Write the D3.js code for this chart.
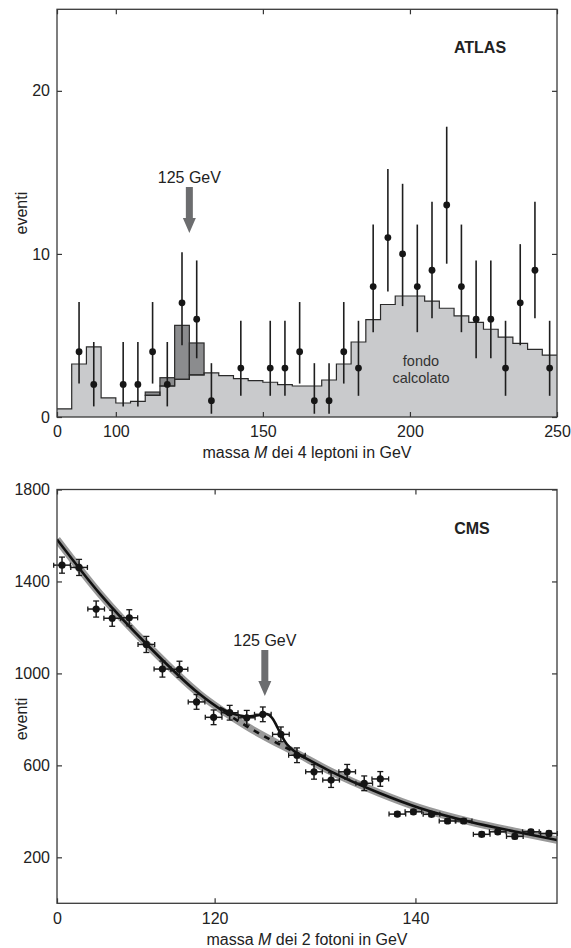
<!DOCTYPE html>
<html>
<head>
<meta charset="utf-8">
<script src="https://cdn.jsdelivr.net/npm/d3@7"></script>
<style>
  body { margin: 0; background: #fff; }
  text { font-family: "Liberation Sans", Arial, Helvetica, sans-serif; fill: #222; }
</style>
</head>
<body>
<div id="chart"></div>
<script>

// ---- ATLAS (4 leptoni) ----
var atlasBinStart = [80, 85, 90, 95, 100, 105, 110, 115, 120, 125, 130, 135, 140, 145, 150, 155, 160,
                     165, 170, 175, 180, 185, 190, 195, 200, 205, 210, 215, 220, 225, 230, 235, 240, 245]
var atlasBinWidth = 5
// fondo calcolato per bin
var atlasBackground = [0.5, 3.25, 4.3, 1.17, 0.86, 0.96, 1.33, 1.9, 2.31, 2.58, 2.7, 2.54, 2.35, 2.23, 2.13, 1.98, 1.9,
                       1.9, 2.27, 3.25, 4.6, 5.97, 6.9, 7.42, 7.42, 7.1, 6.67, 6.2, 5.8, 5.38, 4.9, 4.52, 4.15, 3.8]
// segnale (fondo + Higgs) sopra il fondo
var atlasSignalBin = [110, 115, 120, 125]
var atlasSignalTop = [1.53, 2.41, 5.62, 4.54]

var atlasMass = [87.5, 92.5, 102.5, 107.5, 112.5, 117.5, 122.5, 127.5, 132.5, 142.5,
                 152.5, 157.5, 162.5, 167.5, 172.5, 177.5, 182.5, 187.5, 192.5, 197.5,
                 202.5, 207.5, 212.5, 217.5, 222.5, 227.5, 232.5, 237.5, 242.5, 247.5]
var atlasEvents = [4, 2, 2, 2, 4, 2, 7, 6, 1, 3,
                   3, 3, 4, 1, 1, 4, 3, 8, 11, 10,
                   8, 9, 13, 8, 6, 6, 3, 7, 9, 3]
var atlasErrLow = [2.05, 0.65, 0.65, 0.65, 2.05, 0.65, 4.4, 3.6, 0.2, 1.3,
                   1.3, 1.3, 2.05, 0.2, 0.2, 2.05, 1.3, 5.2, 7.7, 6.8,
                   5.2, 6.05, 9.4, 5.2, 3.6, 3.6, 1.3, 4.4, 6.05, 1.3]
var atlasErrHigh = [7.05, 4.6, 4.6, 4.6, 7.05, 4.6, 10.1, 9.6, 3.3, 5.9,
                    5.9, 5.9, 7.05, 3.3, 3.3, 7.05, 5.9, 11.8, 15.2, 14.3,
                    11.8, 13.2, 17.8, 11.8, 9.6, 9.6, 5.9, 10.6, 13.2, 5.9]

var atlasTicksX = [80, 100, 150, 200, 250]
var atlasTickLabelsX = ['0', '100', '150', '200', '250']
var atlasTicksY = [0, 10, 20]

// ---- CMS (2 fotoni) ----
var cmsMass = [104.8, 106.5, 108.2, 109.8, 111.5, 113.2, 114.8, 116.5, 118.2, 119.9,
               121.5, 123.2, 124.8, 126.6, 128.2, 129.9, 131.6, 133.2, 134.9, 136.5,
               138.2, 139.8, 141.6, 143.2, 144.8, 146.6, 148.2, 149.9, 151.5, 153.3]
var cmsEvents = [1471, 1461, 1280, 1240, 1242, 1126, 1019, 1018, 876, 809,
                 829, 807, 822, 735, 644, 572, 536, 572, 522, 541,
                 388, 398, 387, 358, 358, 300, 311, 291, 311, 304]
var cmsErr = [35, 35, 35, 35, 35, 35, 35, 35, 32, 32,
              32, 32, 32, 32, 32, 32, 32, 32, 32, 32,
              10, 10, 10, 10, 10, 10, 10, 10, 10, 10]
var cmsMassHalfWidth = 0.83

// fit del fondo
var cmsFitMass = [104.3, 108.6, 113.5, 118.5, 123.2, 128.5, 131.5, 136.4, 140.4, 145.4, 150.4, 154.1]
var cmsFitEvents = [1583, 1345, 1115, 910, 770, 645, 575, 480, 415, 355, 308, 275]
// fit fondo + segnale vicino a 125 GeV
var cmsSigMass = [120.5, 121.5, 122.5, 123.5, 124.5, 125.2, 125.7, 126.2, 126.7, 127.2, 127.7, 128.2, 129.0]
var cmsSigEvents = [851, 830, 817, 813, 819, 823, 808, 770, 727, 692, 670, 653, 633]
var cmsDashRange = [120.8, 128.0]

var cmsTicksX = [104.3, 120, 140]
var cmsTickLabelsX = ['0', '120', '140']
var cmsTicksY = [200, 600, 1000, 1400, 1800]

var higgsMass = 125

var W = 571, H = 948
var svg = d3.select('#chart').append('svg').attr('width', W).attr('height', H)

var left = 57, right = 557

// ---------------- grafico ATLAS ----------------
var xTop = d3.scaleLinear().domain([80, 250]).range([left, right])
var yTop = d3.scaleLinear().domain([0, 25]).range([417, 9.3])

var gTop = svg.append('g')

var bgData = atlasBinStart.map(function(b, i){ return { x: b, y: atlasBackground[i] } })
bgData.push({ x: atlasBinStart[atlasBinStart.length - 1] + atlasBinWidth, y: atlasBackground[atlasBackground.length - 1] })

gTop.append('path')
  .datum(bgData)
  .attr('fill', '#c9cacc')
  .attr('d', d3.area().curve(d3.curveStepAfter)
    .x(function(d){ return xTop(d.x) })
    .y0(yTop(0))
    .y1(function(d){ return yTop(d.y) }))

// segnale in grigio scuro
atlasSignalBin.forEach(function(b, i){
  var k = atlasBinStart.indexOf(b)
  gTop.append('rect')
    .attr('x', xTop(b))
    .attr('width', xTop(b + atlasBinWidth) - xTop(b))
    .attr('y', yTop(atlasSignalTop[i]))
    .attr('height', yTop(atlasBackground[k]) - yTop(atlasSignalTop[i]))
    .attr('fill', '#8b8c8e')
    .attr('stroke', '#2a2a2a')
    .attr('stroke-width', 1.2)
})

gTop.append('path')
  .datum(bgData)
  .attr('fill', 'none')
  .attr('stroke', '#2a2a2a')
  .attr('stroke-width', 1.2)
  .attr('d', d3.line().curve(d3.curveStepAfter)
    .x(function(d){ return xTop(d.x) })
    .y(function(d){ return yTop(d.y) }))

// punti con barre d'errore
gTop.selectAll('.err')
  .data(atlasMass)
  .enter().append('line')
  .attr('x1', function(d){ return xTop(d) })
  .attr('x2', function(d){ return xTop(d) })
  .attr('y1', function(d, i){ return yTop(atlasErrLow[i]) })
  .attr('y2', function(d, i){ return yTop(atlasErrHigh[i]) })
  .attr('stroke', '#1e1e1e')
  .attr('stroke-width', 1.6)

gTop.selectAll('.pt')
  .data(atlasMass)
  .enter().append('circle')
  .attr('cx', function(d){ return xTop(d) })
  .attr('cy', function(d, i){ return yTop(atlasEvents[i]) })
  .attr('r', 3.4)
  .attr('fill', '#161616')

drawFrame(gTop, xTop, yTop, atlasTicksX, atlasTickLabelsX, atlasTicksY, [80, 250], [0, 25])

gTop.append('text').attr('x', 480).attr('y', 53).attr('text-anchor', 'middle')
  .style('font-weight', 'bold').style('font-size', '16px').text('ATLAS')

gTop.append('text').attr('x', 421).attr('y', 366).attr('text-anchor', 'middle')
  .style('font-size', '14.5px').style('fill', '#333').text('fondo')
gTop.append('text').attr('x', 421).attr('y', 383).attr('text-anchor', 'middle')
  .style('font-size', '14.5px').style('fill', '#333').text('calcolato')

drawArrow(gTop, xTop(higgsMass), yTop(14.1))

axisTitles(gTop, 458, (yTop(0) + yTop(25)) / 2, '4 leptoni')

// ---------------- grafico CMS ----------------
var xBot = d3.scaleLinear().domain([104.3, 154.1]).range([left, right])
var yBot = d3.scaleLinear().domain([0, 1800]).range([903.3, 489.5])

var gBot = svg.append('g')

var defs = svg.append('defs')
defs.append('clipPath').attr('id', 'solidClip').selectAll('rect')
  .data([[104.3, cmsDashRange[0]], [cmsDashRange[1], 154.1]])
  .enter().append('rect')
  .attr('x', function(d){ return xBot(d[0]) })
  .attr('width', function(d){ return xBot(d[1]) - xBot(d[0]) })
  .attr('y', yBot(1800)).attr('height', yBot(0) - yBot(1800))
defs.append('clipPath').attr('id', 'dashClip').append('rect')
  .attr('x', xBot(cmsDashRange[0]))
  .attr('width', xBot(cmsDashRange[1]) - xBot(cmsDashRange[0]))
  .attr('y', yBot(1800)).attr('height', yBot(0) - yBot(1800))
defs.append('clipPath').attr('id', 'plotClip').append('rect')
  .attr('x', left).attr('width', right - left)
  .attr('y', yBot(1800)).attr('height', yBot(0) - yBot(1800))

var fitLine = d3.line().curve(d3.curveMonotoneX)
  .x(function(d, i){ return xBot(cmsFitMass[i]) })
  .y(function(d){ return yBot(d) })

var gCurves = gBot.append('g').attr('clip-path', 'url(#plotClip)')

// banda grigia attorno al fit
gCurves.append('path').datum(cmsFitEvents)
  .attr('fill', 'none').attr('stroke', '#999').attr('stroke-width', 7.5)
  .attr('d', fitLine)

gCurves.append('path').datum(cmsFitEvents)
  .attr('fill', 'none').attr('stroke', '#111').attr('stroke-width', 2.6)
  .attr('clip-path', 'url(#solidClip)')
  .attr('d', fitLine)

gCurves.append('path').datum(cmsFitEvents)
  .attr('fill', 'none').attr('stroke', '#111').attr('stroke-width', 2.6)
  .attr('stroke-dasharray', '6,6')
  .attr('clip-path', 'url(#dashClip)')
  .attr('d', fitLine)

gCurves.append('path').datum(cmsSigEvents)
  .attr('fill', 'none').attr('stroke', '#111').attr('stroke-width', 2.6)
  .attr('d', d3.line().curve(d3.curveCatmullRom)
    .x(function(d, i){ return xBot(cmsSigMass[i]) })
    .y(function(d){ return yBot(d) }))

// barre d'errore orizzontali e verticali
var pts = gBot.selectAll('.cmspt').data(cmsMass).enter().append('g')

pts.append('line')
  .attr('x1', function(d){ return xBot(d - cmsMassHalfWidth) })
  .attr('x2', function(d){ return xBot(d + cmsMassHalfWidth) })
  .attr('y1', function(d, i){ return yBot(cmsEvents[i]) })
  .attr('y2', function(d, i){ return yBot(cmsEvents[i]) })
  .attr('stroke', '#1a1a1a').attr('stroke-width', 1.5)

;[-1, 1].forEach(function(s){
  pts.append('line')
    .attr('x1', function(d){ return xBot(d + s * cmsMassHalfWidth) })
    .attr('x2', function(d){ return xBot(d + s * cmsMassHalfWidth) })
    .attr('y1', function(d, i){ return yBot(cmsEvents[i]) - 2.5 })
    .attr('y2', function(d, i){ return yBot(cmsEvents[i]) + 2.5 })
    .attr('stroke', '#1a1a1a').attr('stroke-width', 1.3)

  pts.append('line')
    .attr('x1', function(d){ return xBot(d) - 3 })
    .attr('x2', function(d){ return xBot(d) + 3 })
    .attr('y1', function(d, i){ return yBot(cmsEvents[i] + s * cmsErr[i]) })
    .attr('y2', function(d, i){ return yBot(cmsEvents[i] + s * cmsErr[i]) })
    .attr('stroke', '#1a1a1a').attr('stroke-width', 1.3)
})

pts.append('line')
  .attr('x1', function(d){ return xBot(d) })
  .attr('x2', function(d){ return xBot(d) })
  .attr('y1', function(d, i){ return yBot(cmsEvents[i] - cmsErr[i]) })
  .attr('y2', function(d, i){ return yBot(cmsEvents[i] + cmsErr[i]) })
  .attr('stroke', '#1a1a1a').attr('stroke-width', 1.5)

pts.append('circle')
  .attr('cx', function(d){ return xBot(d) })
  .attr('cy', function(d, i){ return yBot(cmsEvents[i]) })
  .attr('r', 3.6)
  .attr('fill', '#141414')

drawFrame(gBot, xBot, yBot, cmsTicksX, cmsTickLabelsX, cmsTicksY, [104.3, 154.1], [0, 1800])

gBot.append('text').attr('x', 472).attr('y', 534).attr('text-anchor', 'middle')
  .style('font-weight', 'bold').style('font-size', '16px').text('CMS')

drawArrow(gBot, xBot(higgsMass), yBot(1102))

axisTitles(gBot, 945, 719, '2 fotoni')


function drawFrame(g, x, y, ticksX, labelsX, ticksY, dx, dy){
  var x0 = x(dx[0]), x1 = x(dx[1]), y0 = y(dy[0]), y1 = y(dy[1])

  var axB = g.append('g').attr('transform', 'translate(0,' + y0 + ')')
    .call(d3.axisBottom(x).tickValues(ticksX).tickSize(-5).tickPadding(9)
      .tickFormat(function(d, i){ return labelsX[i] }))
  var axT = g.append('g').attr('transform', 'translate(0,' + y1 + ')')
    .call(d3.axisTop(x).tickValues(ticksX).tickSize(-5).tickFormat(''))
  var axL = g.append('g').attr('transform', 'translate(' + x0 + ',0)')
    .call(d3.axisLeft(y).tickValues(ticksY).tickSize(-5).tickPadding(7).tickFormat(d3.format('d')))
  var axR = g.append('g').attr('transform', 'translate(' + x1 + ',0)')
    .call(d3.axisRight(y).tickValues(ticksY).tickSize(-5).tickFormat(''))

  ;[axB, axT, axL, axR].forEach(function(a){
    a.select('.domain').remove()
    a.selectAll('line').attr('stroke', '#333').attr('stroke-width', 1.2)
    a.selectAll('text').style('font-size', '16px').attr('fill', '#222')
      .style('font-family', '"Liberation Sans", Arial, sans-serif')
  })

  g.append('rect')
    .attr('x', x0).attr('y', y1)
    .attr('width', x1 - x0).attr('height', y0 - y1)
    .attr('fill', 'none').attr('stroke', '#3a3a3a').attr('stroke-width', 1.3)
}

function drawArrow(g, cx, top){
  // testo sopra la freccia
  g.append('text').attr('x', cx).attr('y', top - 4).attr('text-anchor', 'middle')
    .style('font-size', '16px').text(higgsMass + ' GeV')

  var shaft = 31, head = 15, sw = 3.5, hw = 6.5
  var p = d3.path()
  p.moveTo(cx - sw, top)
  p.lineTo(cx + sw, top)
  p.lineTo(cx + sw, top + shaft)
  p.lineTo(cx + hw, top + shaft)
  p.lineTo(cx, top + shaft + head)
  p.lineTo(cx - hw, top + shaft)
  p.lineTo(cx - sw, top + shaft)
  p.closePath()
  g.append('path').attr('d', p.toString()).attr('fill', '#6c6d6f')
}

function axisTitles(g, baseY, midY, what){
  var t = g.append('text').attr('x', (left + right) / 2).attr('y', baseY)
    .attr('text-anchor', 'middle').style('font-size', '16px')
  t.append('tspan').text('massa ')
  t.append('tspan').style('font-style', 'italic').text('M')
  t.append('tspan').text(' dei ' + what + ' in GeV')

  g.append('text')
    .attr('transform', 'translate(27,' + midY + ') rotate(-90)')
    .attr('text-anchor', 'middle').style('font-size', '16px').text('eventi')
}

</script>
</body>
</html>
